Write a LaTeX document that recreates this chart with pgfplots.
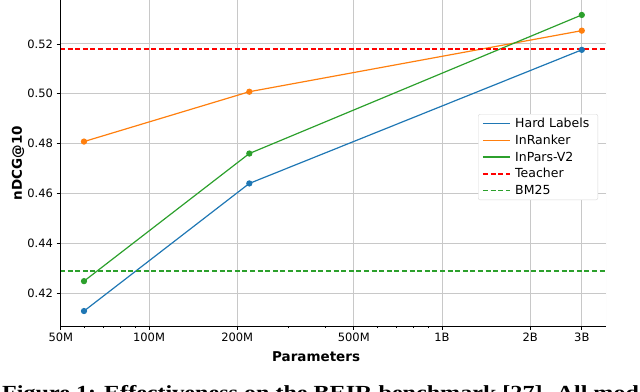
\documentclass[border=0pt]{standalone}
\usepackage{pgfplots}
\pgfplotsset{compat=1.18}
\usepackage{graphicx}
\usepackage{fontspec}
\setmainfont{DejaVu Sans}
\newfontfamily\capfont{Liberation Serif}

\definecolor{mplblue}{HTML}{1F77B4}
\definecolor{mplorange}{HTML}{FF7F0E}
\definecolor{mplgreen}{HTML}{2CA02C}
\definecolor{gridgray}{HTML}{C8C8C8}

\begin{document}
\begin{tikzpicture}[x=1pt,y=1pt]
  \begin{axis}[
      name=main,
      at={(0,0)}, anchor=south west,
      scale only axis,
      width=546pt, height=326pt,
      xmode=log,
      xmin=4.97e7, xmax=3.63e9,
      ymin=0.4068, ymax=0.5376,
      xtick={5e7,1e8,2e8,5e8,1e9,2e9,3e9},
      xticklabels={50M,100M,200M,500M,1B,2B,3B},
      minor xtick={6e7,7e7,8e7,9e7,3e8,4e8,6e8,7e8,8e8,9e8},
      ytick={0.42,0.44,0.46,0.48,0.50,0.52},
      yticklabels={0.42,0.44,0.46,0.48,0.50,0.52},
      tick align=outside,
      xtick pos=left, ytick pos=left,
      major tick length=3.5pt,
      minor tick length=2pt,
      tick style={black, line width=0.7pt},
      ticklabel style={font=\fontsize{11.5}{13}\selectfont},
      /pgf/number format/assume math mode=true,
      xmajorgrids, ymajorgrids,
      major grid style={gridgray, line width=0.8pt},
      axis line style={draw=none},
      xlabel={Parameters},
      ylabel={nDCG@10},
      every axis x label/.style={at={(axis description cs:0.469,-0.1074)}, anchor=base,
        font=\bfseries\fontsize{13.5}{15}\selectfont},
      every axis y label/.style={at={(axis description cs:-0.0769,0.5)}, rotate=90, anchor=center,
        font=\bfseries\fontsize{13.5}{15}\selectfont},
      legend style={
        at={(axis description cs:0.9853,0.6503)}, anchor=north east,
        draw=gridgray!70, rounded corners=2pt, fill=white,
        font=\fontsize{12.5}{14}\selectfont,
        inner xsep=4pt, inner ysep=2pt,
        row sep=1.8pt,
        nodes={inner xsep=4.5pt},
      },
      legend cell align=left,
      legend image code/.code={\draw[#1, mark=none, line width=1.4pt] (0pt,0pt) -- (27pt,0pt);},
      every axis plot/.append style={line width=1.2pt},
    ]
    \addplot[color=mplblue, mark=*, mark size=2.5pt] coordinates {(6e7,0.4128) (2.2e8,0.4640) (3e9,0.5176)};
    \addlegendentry{Hard Labels}
    \addplot[color=mplorange, mark=*, mark size=2.5pt] coordinates {(6e7,0.4808) (2.2e8,0.5008) (3e9,0.5253)};
    \addlegendentry{InRanker}
    \addplot[color=mplgreen, mark=*, mark size=2.5pt] coordinates {(6e7,0.4248) (2.2e8,0.4760) (3e9,0.5316)};
    \addlegendentry{InPars-V2}
    \addplot[color=red, dash pattern=on 5pt off 2.6pt, line width=1.4pt] coordinates {(4.97e7,0.5179) (3.63e9,0.5179)};
    \addlegendentry{Teacher}
    \addplot[color=mplgreen, dash pattern=on 5pt off 2.6pt, line width=1.4pt] coordinates {(4.97e7,0.4289) (3.63e9,0.4289)};
    \addlegendentry{BM25}
    \draw[black, line width=1pt] (rel axis cs:0,1) -- (rel axis cs:0,0) -- (rel axis cs:1,0);
    \draw[black, line width=1pt] (rel axis cs:0,1) -- (rel axis cs:1,1);
    \draw[gray!12, line width=1pt] (rel axis cs:1,0) -- (rel axis cs:1,1);
  \end{axis}
  \node[anchor=base west, inner sep=0pt, font=\capfont\bfseries\fontsize{20}{24}\selectfont]
    at (-58,-73) {\scalebox{1.205}[1]{Figure 1: Effectiveness on the BEIR benchmark [27]. All models}};
  \pgfresetboundingbox
  \path[use as bounding box] (-60,-65) rectangle (580,326);
\end{tikzpicture}
\end{document}
